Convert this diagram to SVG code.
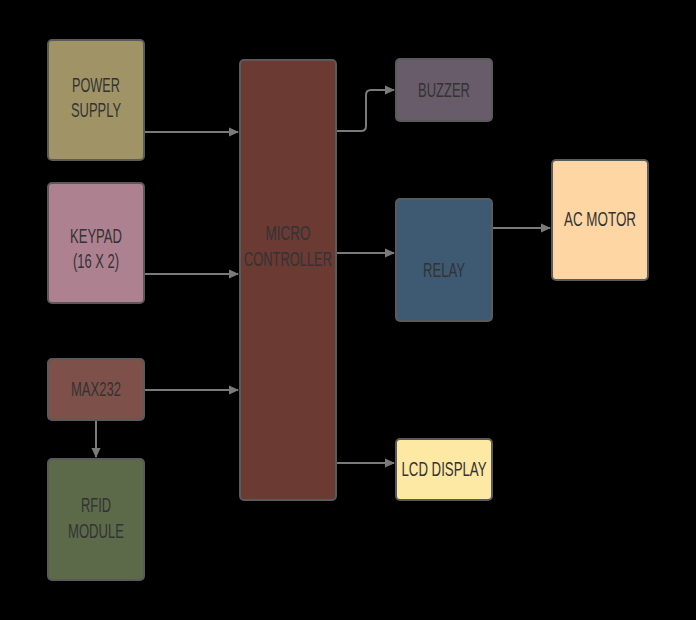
<svg xmlns="http://www.w3.org/2000/svg" width="696" height="620" viewBox="0 0 696 620">
<style>
.box{stroke:#5a5a5a;stroke-width:2}
.t{font-family:"Liberation Sans",Arial,sans-serif;font-size:21px;fill:#333;text-anchor:middle}
.c{fill:none;stroke:#7a7a7a;stroke-width:2}
</style>
<defs>
<marker id="ah" markerWidth="10" markerHeight="10" refX="9" refY="5" orient="auto" markerUnits="userSpaceOnUse">
<path d="M0,0.5 L10,5 L0,9.5 Z" fill="#7a7a7a"/>
</marker>
</defs>
<rect width="696" height="620" fill="#000"/>
<g id="connectors">
<path class="c" d="M144,132 H238" marker-end="url(#ah)"/>
<path class="c" d="M144,274 H238" marker-end="url(#ah)"/>
<path class="c" d="M144,390 H238" marker-end="url(#ah)"/>
<path class="c" d="M96,420 V457" marker-end="url(#ah)"/>
<path class="c" d="M336,131 H361 Q366,131 366,126 V95 Q366,90 371,90 H394" marker-end="url(#ah)"/>
<path class="c" d="M336,253 H394" marker-end="url(#ah)"/>
<path class="c" d="M336,463 H394" marker-end="url(#ah)"/>
<path class="c" d="M492,228 H550" marker-end="url(#ah)"/>
</g>
<g id="power">
<rect class="box" x="48" y="40" width="96" height="120" rx="4" fill="#a09466"/>
<text class="t" x="96" y="92" textLength="48" lengthAdjust="spacingAndGlyphs">POWER</text>
<text class="t" x="96" y="117" textLength="50" lengthAdjust="spacingAndGlyphs">SUPPLY</text>
</g>
<g id="keypad">
<rect class="box" x="48" y="183" width="96" height="120" rx="4" fill="#ae8191"/>
<text class="t" x="96" y="243" textLength="52" lengthAdjust="spacingAndGlyphs">KEYPAD</text>
<text class="t" x="96" y="268" textLength="46" lengthAdjust="spacingAndGlyphs">(16 X 2)</text>
</g>
<g id="max232">
<rect class="box" x="48" y="359" width="96" height="61" rx="4" fill="#7d5049"/>
<text class="t" x="96" y="396" textLength="50" lengthAdjust="spacingAndGlyphs">MAX232</text>
</g>
<g id="rfid">
<rect class="box" x="48" y="459" width="96" height="121" rx="4" fill="#5c6a4a"/>
<text class="t" x="96" y="512" textLength="30" lengthAdjust="spacingAndGlyphs">RFID</text>
<text class="t" x="96" y="538" textLength="56" lengthAdjust="spacingAndGlyphs">MODULE</text>
</g>
<g id="micro">
<rect class="box" x="240" y="60" width="96" height="440" rx="4" fill="#6a3a33"/>
<text class="t" x="288" y="240" textLength="45" lengthAdjust="spacingAndGlyphs">MICRO</text>
<text class="t" x="288" y="266" textLength="88" lengthAdjust="spacingAndGlyphs">CONTROLLER</text>
</g>
<g id="buzzer">
<rect class="box" x="396" y="59" width="96" height="62" rx="4" fill="#695c6a"/>
<text class="t" x="444" y="97" textLength="52" lengthAdjust="spacingAndGlyphs">BUZZER</text>
</g>
<g id="relay">
<rect class="box" x="396" y="199" width="96" height="122" rx="4" fill="#3d5a72"/>
<text class="t" x="444" y="277" textLength="42" lengthAdjust="spacingAndGlyphs">RELAY</text>
</g>
<g id="acmotor">
<rect class="box" x="552" y="160" width="96" height="120" rx="4" fill="#fed6a4"/>
<text class="t" x="600" y="226" textLength="72" lengthAdjust="spacingAndGlyphs">AC MOTOR</text>
</g>
<g id="lcd">
<rect class="box" x="396" y="439" width="96" height="61" rx="4" fill="#fde8a4"/>
<text class="t" x="444" y="476" textLength="85" lengthAdjust="spacingAndGlyphs">LCD DISPLAY</text>
</g>
</svg>
